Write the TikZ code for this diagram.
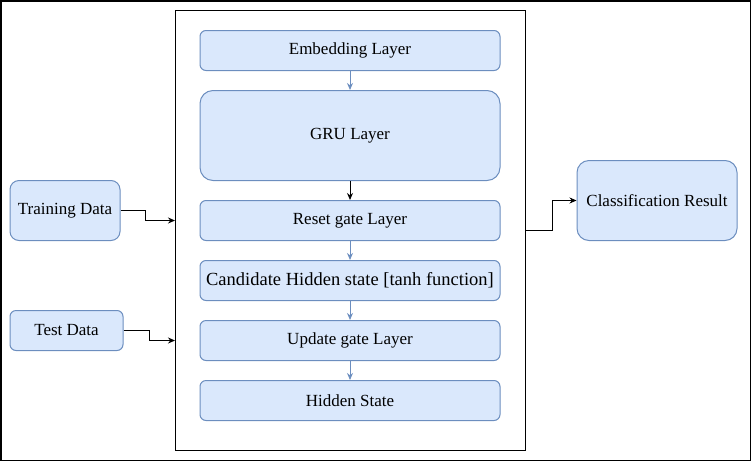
\documentclass[tikz,border=0pt]{standalone}
\usepackage{fontspec}
\setmainfont{Liberation Serif}
\newfontfamily\boxfont{Liberation Serif}
\usepackage{xcolor}
\usetikzlibrary{arrows.meta, calc, positioning}

\definecolor{boxfill}{HTML}{DAE8FC}
\definecolor{boxline}{HTML}{6C8EBF}

\tikzset{
    layerbox/.style={draw=boxline, fill=boxfill, line width=1pt, rounded corners=6pt,
        minimum width=300pt, minimum height=40pt, inner sep=0pt,
        font=\boxfont\fontsize{17}{20}\selectfont},
    blueflow/.style={draw=boxline, line width=1pt, -{Stealth[length=7pt,width=6pt]}},
    blackflow/.style={draw=black, line width=1pt, -{Stealth[length=7pt,width=6pt]}}
}

\begin{document}
\begin{tikzpicture}[x=1pt, y=-1pt]

    % =================================================================
    % 1. KHUNG NGOAI VA KHUNG MO HINH
    % =================================================================
    \useasboundingbox (0,0) rectangle (751,461);
    \draw[line width=1.5pt] (0.75,0.75) rectangle (750.25,460.25);
    \node[draw, line width=1pt, minimum width=350pt, minimum height=440pt,
        inner sep=0pt] (frame) at (350,230) {};

    % =================================================================
    % 2. CAC LOP CUA MANG GRU
    % =================================================================
    \node[layerbox] (embed) at (350,50.5) {Embedding Layer};
    \node[layerbox, minimum height=90pt, rounded corners=13pt] (gru) at (350,135.5) {GRU Layer};
    \node[layerbox] (reset) at (350,220.5) {Reset gate Layer};
    \node[layerbox, font=\boxfont\fontsize{18.5}{22}\selectfont] (cand) at (350,280.5)
        {Candidate Hidden state [tanh function]};
    \node[layerbox] (update) at (350,340.5) {Update gate Layer};
    \node[layerbox] (hidden) at (350,400.5) {Hidden State};

    % =================================================================
    % 3. DU LIEU VAO VA KET QUA
    % =================================================================
    \node[layerbox, minimum width=110pt, minimum height=60pt, rounded corners=9pt]
        (train) at (65,210.5) {Training Data};
    \node[layerbox, minimum width=113pt] (test) at (66.5,330.5) {Test Data};
    \node[layerbox, minimum width=160pt, minimum height=80pt, rounded corners=12pt]
        (result) at (657,200.5) {Classification Result};

    \coordinate (in1) at (175,220.5);
    \coordinate (in2) at (175,340.5);
    \coordinate (out1) at (525,230.5);

    % =================================================================
    % 4. CAC MUI TEN
    % =================================================================
    \draw[blueflow] (embed) -- (gru);
    \draw[blackflow] (gru) -- (reset);
    \draw[blueflow] (reset) -- (cand);
    \draw[blueflow] (cand) -- (update);
    \draw[blueflow] (update) -- (hidden);

    \draw[blackflow] (train.east) -- ++(25,0) |- (in1);
    \draw[blackflow] (test.east) -- ++(26,0) |- (in2);
    \draw[blackflow] (out1) -- ++(27,0) |- (result.west);

\end{tikzpicture}
\end{document}
